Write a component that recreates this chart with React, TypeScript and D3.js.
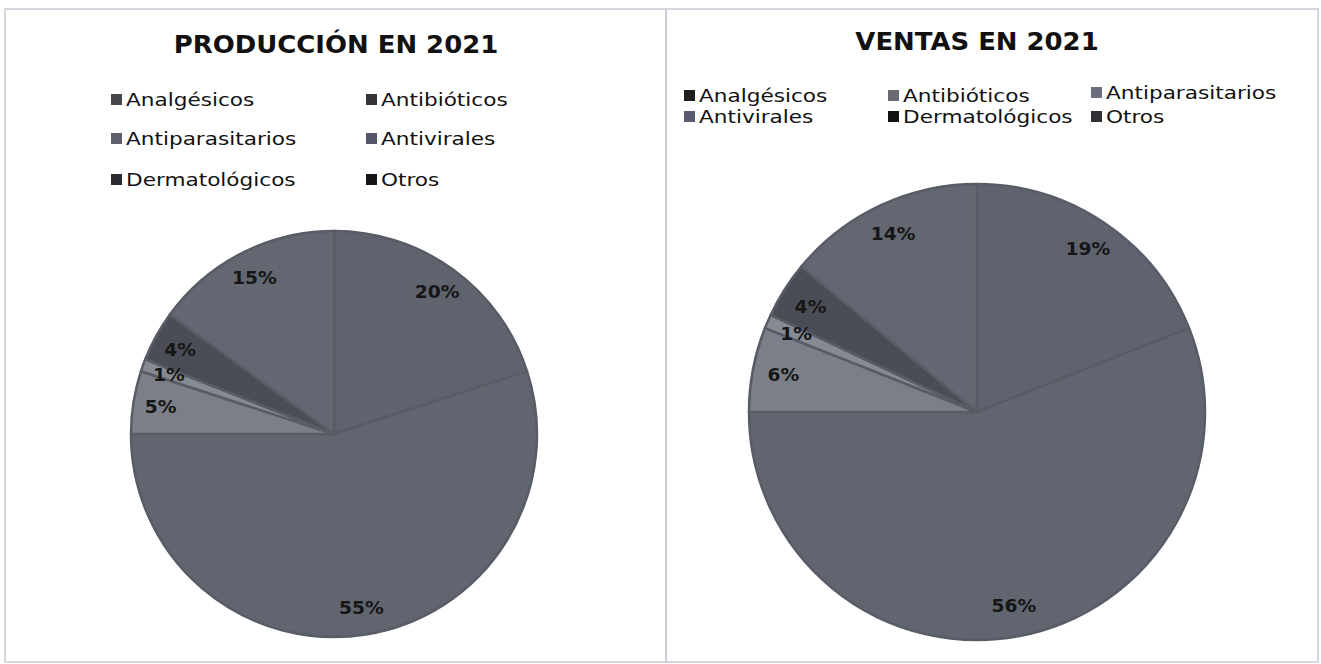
import React from "react";
import * as d3 from "d3";

const categories = ["Analgésicos", "Antibióticos", "Antiparasitarios", "Antivirales", "Dermatológicos", "Otros"];
const produccion = [20, 55, 5, 1, 4, 15];
const ventas = [19, 56, 6, 1, 4, 14];
const sliceColors = ["#5f636e", "#61656f", "#7b7f88", "#868a93", "#4a4d55", "#636771"];
const legendColorsLeft = ["#45464c", "#333438", "#5d5f6c", "#55566a", "#2a2b2f", "#151515"];
const legendColorsRight = ["#1f1f22", "#6a6b72", "#6c6d7d", "#5a5b70", "#111111", "#303036"];

const FONT = "'DejaVu Sans', sans-serif";

type PieProps = {
  title: string;
  values: number[];
  cx: number;
  cy: number;
  r: number;
  titleX: number;
  titleY: number;
  legendColors: string[];
  legendPos: { x: number; y: number }[];
};

function Pie({ title, values, cx, cy, r, titleX, titleY, legendColors, legendPos }: PieProps) {
  const pie = d3.pie<number>().sort(null).value((d) => d).startAngle(0).endAngle(2 * Math.PI);
  const arcs = pie(values);
  const arcGen = d3.arc<d3.PieArcDatum<number>>().innerRadius(0).outerRadius(r);
  const labelArc = d3.arc<d3.PieArcDatum<number>>().innerRadius(r * 0.865).outerRadius(r * 0.865);
  return (
    <g>
      <text transform={`translate(${titleX},${titleY}) scale(1.08,1)`} textAnchor="middle" fontFamily={FONT} fontWeight="bold" fontSize={24} fill="#111">
        {title}
      </text>
      {categories.map((c, i) => (
        <g key={c}>
          <rect x={legendPos[i].x} y={legendPos[i].y - 6} width={11} height={11} fill={legendColors[i]} />
          <text transform={`translate(${legendPos[i].x + 15},${legendPos[i].y}) scale(1.2,1)`} dominantBaseline="central" fontFamily={FONT} fontSize={18} fill="#111">
            {c}
          </text>
        </g>
      ))}
      <g transform={`translate(${cx},${cy})`}>
        {arcs.map((a, i) => (
          <path key={i} d={arcGen(a) || ""} fill={sliceColors[i]} stroke="#585c66" strokeWidth={2.5} strokeLinejoin="round" />
        ))}
        {arcs.map((a, i) => {
          const [lx, ly] = labelArc.centroid(a);
          return (
            <text key={"l" + i} transform={`translate(${lx},${ly}) scale(1.1,1)`} textAnchor="middle" dominantBaseline="central" fontFamily={FONT} fontWeight="bold" fontSize={17} fill="#161616">
              {`${a.data}%`}
            </text>
          );
        })}
      </g>
    </g>
  );
}

export default function App() {
  const leftLegend = [
    { x: 111, y: 100 },
    { x: 366, y: 100 },
    { x: 111, y: 139 },
    { x: 366, y: 139 },
    { x: 111, y: 180 },
    { x: 366, y: 180 },
  ];
  const rightLegend = [
    { x: 684, y: 96 },
    { x: 888, y: 96 },
    { x: 1091, y: 93 },
    { x: 684, y: 117 },
    { x: 888, y: 117 },
    { x: 1091, y: 117 },
  ];
  return (
    <svg width={1321} height={664} style={{ position: "absolute", left: 0, top: 0, background: "#fff" }}>
      <rect x={0} y={0} width={1321} height={664} fill="#fff" />
      <rect x={5} y={9} width={661} height={653} fill="none" stroke="#c8cad5" strokeWidth={1.5} />
      <rect x={666} y={9} width={652} height={653} fill="none" stroke="#c8cad5" strokeWidth={1.5} />
      <Pie title="PRODUCCIÓN EN 2021" values={produccion} cx={334} cy={434} r={203} titleX={336} titleY={53} legendColors={legendColorsLeft} legendPos={leftLegend} />
      <Pie title="VENTAS EN 2021" values={ventas} cx={977} cy={412} r={228} titleX={977} titleY={50} legendColors={legendColorsRight} legendPos={rightLegend} />
    </svg>
  );
}
